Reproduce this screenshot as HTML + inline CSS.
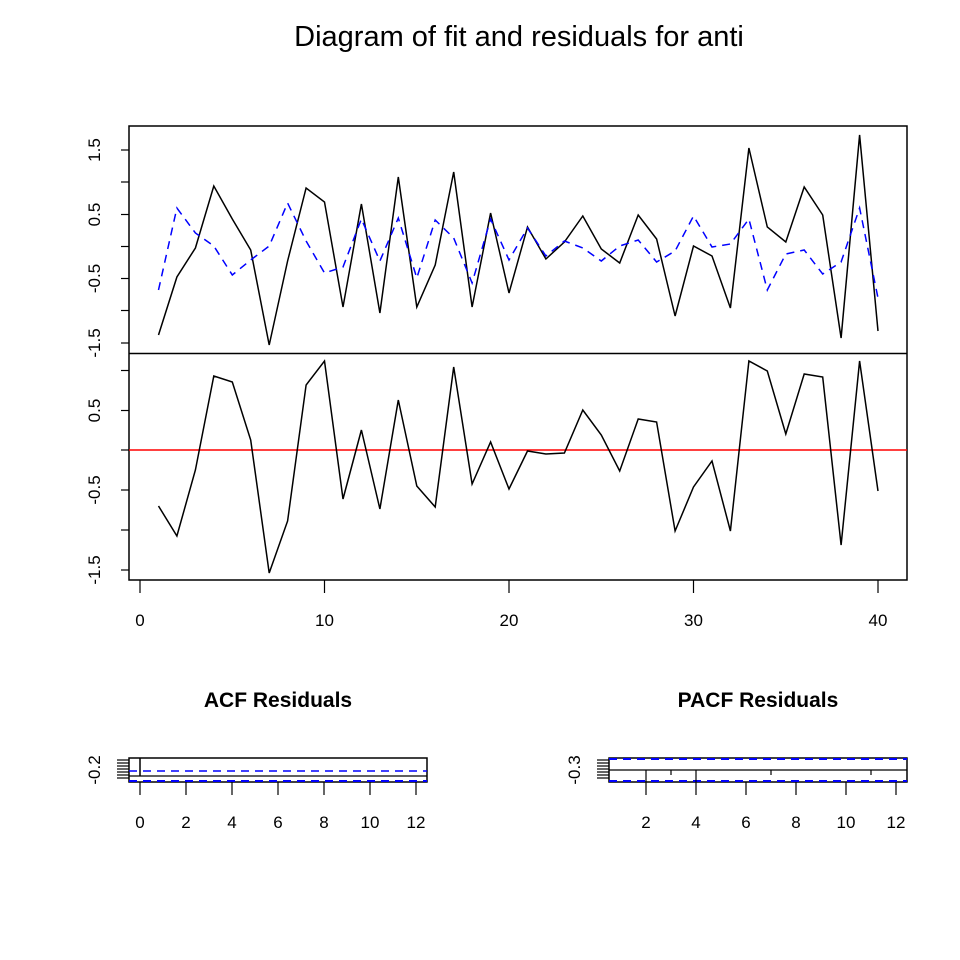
<!DOCTYPE html>
<html><head><meta charset="utf-8"><style>body{margin:0;background:#fff}svg{display:block}text{font-family:"Liberation Sans",Arial,sans-serif;fill:#000}</style></head><body>
<svg width="960" height="960" viewBox="0 0 960 960" xmlns="http://www.w3.org/2000/svg">
<text x="519" y="46" font-size="29" text-anchor="middle">Diagram of fit and residuals for anti</text>
<rect x="129" y="126" width="778" height="454" fill="none" stroke="#000" stroke-width="1.5"/>
<line x1="129" y1="353.5" x2="907" y2="353.5" stroke="#000" stroke-width="1.5"/>
<g stroke="#000" stroke-width="1.2">
<line x1="121" y1="150" x2="129" y2="150"/><line x1="121" y1="182" x2="129" y2="182"/><line x1="121" y1="214.5" x2="129" y2="214.5"/><line x1="121" y1="246.5" x2="129" y2="246.5"/><line x1="121" y1="278.5" x2="129" y2="278.5"/><line x1="121" y1="310.5" x2="129" y2="310.5"/><line x1="121" y1="343" x2="129" y2="343"/>
<line x1="121" y1="370.5" x2="129" y2="370.5"/><line x1="121" y1="410.5" x2="129" y2="410.5"/><line x1="121" y1="450" x2="129" y2="450"/><line x1="121" y1="490" x2="129" y2="490"/><line x1="121" y1="530" x2="129" y2="530"/><line x1="121" y1="570" x2="129" y2="570"/>
<line x1="140" y1="580" x2="140" y2="593"/><line x1="324.5" y1="580" x2="324.5" y2="593"/><line x1="509" y1="580" x2="509" y2="593"/><line x1="693.5" y1="580" x2="693.5" y2="593"/><line x1="878" y1="580" x2="878" y2="593"/>
</g>
<g font-size="17" text-anchor="middle">
<text transform="translate(100,150) rotate(-90)">1.5</text>
<text transform="translate(100,214.5) rotate(-90)">0.5</text>
<text transform="translate(100,278.5) rotate(-90)">-0.5</text>
<text transform="translate(100,343) rotate(-90)">-1.5</text>
<text transform="translate(100,410.5) rotate(-90)">0.5</text>
<text transform="translate(100,490) rotate(-90)">-0.5</text>
<text transform="translate(100,570) rotate(-90)">-1.5</text>
<text x="140" y="626">0</text><text x="324.5" y="626">10</text><text x="509" y="626">20</text><text x="693.5" y="626">30</text><text x="878" y="626">40</text>
</g>
<polyline fill="none" stroke="#000" stroke-width="1.5" points="158.5,335 176.9,277 195.4,248 213.8,186 232.3,219 250.7,250 269.2,345 287.6,261 306.1,188 324.5,202 343,307 361.4,204 379.9,313 398.3,177 416.8,307 435.2,265 453.7,172 472.1,307 490.6,213 509,293 527.5,227 545.9,259 564.4,242 582.8,216 601.3,249 619.7,263 638.2,215 656.6,239 675.1,316 693.5,246 712,256 730.4,308 748.9,148 767.3,227 785.8,242 804.2,187 822.7,215 841.1,338 859.6,135 878,331"/>
<polyline fill="none" stroke="#0000ff" stroke-width="1.5" stroke-dasharray="8,6" points="158.5,290 176.9,208 195.4,233 213.8,246 232.3,275 250.7,260 269.2,246 287.6,203 306.1,241 324.5,273 343,267 361.4,219 379.9,261 398.3,218 416.8,278 435.2,220 453.7,238 472.1,283 490.6,219 509,260 527.5,228 545.9,256 564.4,241 582.8,248 601.3,261 619.7,246 638.2,240 656.6,262 675.1,251 693.5,216 712,247 730.4,244 748.9,219 767.3,290 785.8,254 804.2,250 822.7,274 841.1,262 859.6,208 878,298"/>
<line x1="129" y1="450" x2="907" y2="450" stroke="#ff0000" stroke-width="1.5"/>
<polyline fill="none" stroke="#000" stroke-width="1.5" points="158.5,506 176.9,536 195.4,470 213.8,376 232.3,382 250.7,440 269.2,573 287.6,521 306.1,385 324.5,361 343,499 361.4,430 379.9,509 398.3,400 416.8,486 435.2,507 453.7,367 472.1,484 490.6,442 509,489 527.5,451 545.9,454 564.4,453 582.8,410 601.3,435 619.7,471 638.2,419 656.6,422 675.1,531 693.5,487 712,461 730.4,531 748.9,361 767.3,371 785.8,434 804.2,374 822.7,377 841.1,545 859.6,361 878,491"/>
<text x="278" y="707" font-size="21" font-weight="bold" text-anchor="middle">ACF Residuals</text>
<rect x="129" y="758" width="298" height="24" fill="none" stroke="#000" stroke-width="1.5"/>
<line x1="129" y1="776" x2="427" y2="776" stroke="#000" stroke-width="1.2"/>
<line x1="140" y1="758" x2="140" y2="776" stroke="#000" stroke-width="1.5"/>
<line x1="129" y1="771" x2="427" y2="771" stroke="#0000ff" stroke-width="1.5" stroke-dasharray="8,6"/>
<line x1="129" y1="781" x2="427" y2="781" stroke="#0000ff" stroke-width="2" stroke-dasharray="8,6"/>
<g stroke="#000" stroke-width="1.2">
<line x1="117" y1="760" x2="129" y2="760"/><line x1="117" y1="763" x2="129" y2="763"/><line x1="117" y1="766" x2="129" y2="766"/><line x1="117" y1="769" x2="129" y2="769"/><line x1="117" y1="772" x2="129" y2="772"/><line x1="117" y1="775" x2="129" y2="775"/><line x1="117" y1="778" x2="129" y2="778"/>
<line x1="140" y1="782" x2="140" y2="795"/><line x1="186" y1="782" x2="186" y2="795"/><line x1="232" y1="782" x2="232" y2="795"/><line x1="278" y1="782" x2="278" y2="795"/><line x1="324" y1="782" x2="324" y2="795"/><line x1="370" y1="782" x2="370" y2="795"/><line x1="416" y1="782" x2="416" y2="795"/>
</g>
<g font-size="17" text-anchor="middle">
<text transform="translate(100,770) rotate(-90)">-0.2</text>
<text x="140" y="828">0</text><text x="186" y="828">2</text><text x="232" y="828">4</text><text x="278" y="828">6</text><text x="324" y="828">8</text><text x="370" y="828">10</text><text x="416" y="828">12</text>
</g>
<text x="758" y="707" font-size="21" font-weight="bold" text-anchor="middle">PACF Residuals</text>
<rect x="609" y="758" width="298" height="24" fill="none" stroke="#000" stroke-width="1.5"/>
<line x1="609" y1="770" x2="907" y2="770" stroke="#000" stroke-width="1.2"/>
<line x1="609" y1="759" x2="907" y2="759" stroke="#0000ff" stroke-width="2" stroke-dasharray="8,6"/>
<line x1="609" y1="781" x2="907" y2="781" stroke="#0000ff" stroke-width="2" stroke-dasharray="8,6"/>
<g stroke="#000" stroke-width="1.2">
<line x1="597" y1="760" x2="609" y2="760"/><line x1="597" y1="763" x2="609" y2="763"/><line x1="597" y1="766" x2="609" y2="766"/><line x1="597" y1="769" x2="609" y2="769"/><line x1="597" y1="772" x2="609" y2="772"/><line x1="597" y1="775" x2="609" y2="775"/><line x1="597" y1="778" x2="609" y2="778"/>
<line x1="646" y1="770" x2="646" y2="795"/><line x1="696" y1="770" x2="696" y2="795"/><line x1="746" y1="782" x2="746" y2="795"/><line x1="796" y1="782" x2="796" y2="795"/><line x1="846" y1="782" x2="846" y2="795"/><line x1="896" y1="782" x2="896" y2="795"/>
<line x1="671" y1="770" x2="671" y2="775"/><line x1="771" y1="770" x2="771" y2="775"/><line x1="871" y1="770" x2="871" y2="775"/>
</g>
<g font-size="17" text-anchor="middle">
<text transform="translate(580,770) rotate(-90)">-0.3</text>
<text x="646" y="828">2</text><text x="696" y="828">4</text><text x="746" y="828">6</text><text x="796" y="828">8</text><text x="846" y="828">10</text><text x="896" y="828">12</text>
</g>
</svg>
</body></html>
